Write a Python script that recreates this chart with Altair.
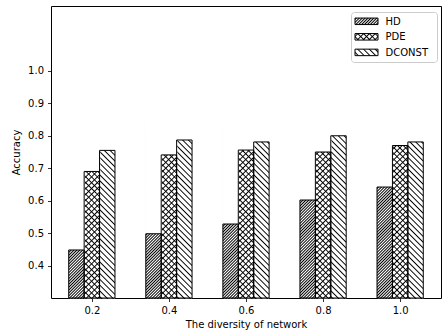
import math
import altair as alt
import pandas as pd

# ---- data ----
diversity = [0.2, 0.4, 0.6, 0.8, 1.0]
series = ["HD", "PDE", "DCONST"]
hd = [0.448, 0.498, 0.528, 0.602, 0.642]
pde = [0.690, 0.741, 0.756, 0.750, 0.770]
dconst = [0.755, 0.787, 0.781, 0.800, 0.781]
x_ticks = [0.2, 0.4, 0.6, 0.8, 1.0]
y_ticks = [0.4, 0.5, 0.6, 0.7, 0.8, 0.9, 1.0]

# ---- layout ----
W, H = 390, 292
XDOM = [0.094, 1.106]
YDOM = [0.3, 1.2]
BAR_W = 0.04
COVER_PAD = 0.0018
offsets = {"HD": -0.04, "PDE": 0.0, "DCONST": 0.04}

PX_PER_Y = H / (YDOM[1] - YDOM[0])
SEG_PX = 17.4          # multiple of every hatch spacing -> seamless tiling
EXT_PX = 0.6           # overlap between tiles
N_SEG = 10
seg_h = SEG_PX / PX_PER_Y
ext_h = EXT_PX / PX_PER_Y
COVER_TOP = YDOM[0] + N_SEG * seg_h + 0.03

rows, seg_rows = [], []
for s, vals in zip(series, [hd, pde, dconst]):
    for d, v in zip(diversity, vals):
        c = d + offsets[s]
        r = dict(diversity=d, series=s, value=v,
                 x0=c - BAR_W / 2, x1=c + BAR_W / 2,
                 cx0=c - BAR_W / 2 - COVER_PAD, cx1=c + BAR_W / 2 + COVER_PAD,
                 base=YDOM[0], ctop=COVER_TOP)
        rows.append(r)
        for k in range(N_SEG):
            lo = YDOM[0] + k * seg_h
            seg_rows.append(dict(series=s, x0=r["x0"], x1=r["x1"],
                                 lo=lo, hi=lo + seg_h,
                                 elo=lo - ext_h, ehi=lo + seg_h + ext_h))
df = pd.DataFrame(rows)
seg = pd.DataFrame(seg_rows)

bar_px_w = BAR_W / (XDOM[1] - XDOM[0]) * W


def hatch(w, h, spacing, direction, lw=0.95, clear=False):
    """Diagonal hatch drawn as a linear gradient (anti-aliased triangle lines)."""
    S = w + h
    s = S / (w * w + h * h)
    if direction == "/":
        x1, y1, x2, y2 = 0, 0, s * w, s * h
    else:
        x1, y1, x2, y2 = 1, 0, 1 - s * w, s * h
    half = lw * math.sqrt(2)
    phase = spacing / 2
    k0 = math.floor((-half - phase) / spacing) - 1
    k1 = math.ceil((S + half - phase) / spacing) + 1
    centers = [phase + k * spacing for k in range(k0, k1 + 1)]
    pts = {0.0, S}
    for c in centers:
        for p in (c - half, c, c + half):
            if 0 < p < S:
                pts.add(p)

    def inten(p):
        return min(1.0, max(0.0, max(1 - abs(p - c) / half for c in centers)))

    stops = []
    for p in sorted(pts):
        a = inten(p)
        if clear:
            col = f"rgba(0,0,0,{a:.3f})"
        else:
            g = round(255 * (1 - a))
            col = f"rgb({g},{g},{g})"
        stops.append({"offset": round(p / S, 5), "color": col})
    return {"gradient": "linear", "x1": x1, "y1": y1, "x2": x2, "y2": y2,
            "stops": stops}


def patterns(w, h, h_clear):
    return {
        "HD": [(hatch(w, h, 2.9, "/", lw=1.0), True)],
        "PDE": [(hatch(w, h, 5.8, "/"), True),
                (hatch(w, h_clear, 5.8, "\\", clear=True), False)],
        "DCONST": [(hatch(w, h, 5.8, "\\"), True)],
    }


bar_pat = patterns(bar_px_w, SEG_PX + 2 * EXT_PX, SEG_PX)

x_axis = alt.Axis(values=x_ticks, format=".1f", grid=False, domain=False,
                  tickColor="black", tickSize=3.5, tickWidth=0.8,
                  labelPadding=4, labelFontSize=10, labelColor="black",
                  titleFontSize=10, titleFontWeight="normal", titleColor="black",
                  titleY=29.5, titleBaseline="alphabetic")
y_axis = alt.Axis(values=y_ticks, format=".1f", grid=False, domain=False,
                  tickColor="black", tickSize=3.5, tickWidth=0.8,
                  labelPadding=4, labelFontSize=10, labelColor="black",
                  titleFontSize=10, titleFontWeight="normal", titleColor="black",
                  titleX=-31.5, titleY=146, titleAngle=270, titleAlign="center",
                  titleBaseline="alphabetic")

X = alt.X("x0:Q", scale=alt.Scale(domain=XDOM, nice=False, zero=False),
          axis=x_axis, title="The diversity of network")
X2 = alt.X2("x1")
YSC = alt.Scale(domain=YDOM, nice=False, zero=False)

layers = []
for s in series:
    sbase = alt.Chart(seg).transform_filter(alt.datum.series == s)
    for g, extended in bar_pat[s]:
        lo, hi = ("elo", "ehi") if extended else ("lo", "hi")
        layers.append(sbase.mark_rect(fill=g).encode(
            x=X, x2=X2,
            y=alt.Y(f"{lo}:Q", scale=YSC, axis=y_axis, title="Accuracy"),
            y2=hi))
for s in series:
    base = alt.Chart(df).transform_filter(alt.datum.series == s)
    layers.append(base.mark_rect(fill="white").encode(
        x=alt.X("cx0:Q"), x2="cx1", y=alt.Y("value:Q", scale=YSC), y2="ctop"))
for s in series:
    base = alt.Chart(df).transform_filter(alt.datum.series == s)
    layers.append(base.mark_rect(fillOpacity=0, stroke="black", strokeWidth=1).encode(
        x=X, x2=X2, y=alt.Y("value:Q", scale=YSC), y2="base"))

# ---- legend (drawn by hand) ----
one = pd.DataFrame({"k": [0]})
layers.append(alt.Chart(one).mark_rect(fill="white", fillOpacity=0.8,
                                       stroke="#cccccc", strokeWidth=1,
                                       cornerRadius=3).encode(
    x=alt.value(300.5), x2=alt.value(386.5), y=alt.value(6.5), y2=alt.value(56.5)))

SW, SH = 23, 6.5
leg_pat = patterns(SW, SH, SH)
leg_y = {"HD": 15.3, "PDE": 30.8, "DCONST": 46.4}
for s in series:
    yc = leg_y[s]
    for g, _ in leg_pat[s]:
        layers.append(alt.Chart(one).mark_rect(fill=g).encode(
            x=alt.value(304), x2=alt.value(304 + SW),
            y=alt.value(yc - SH / 2), y2=alt.value(yc + SH / 2)))
    layers.append(alt.Chart(one).mark_rect(fillOpacity=0, stroke="black",
                                           strokeWidth=1).encode(
        x=alt.value(304), x2=alt.value(304 + SW),
        y=alt.value(yc - SH / 2), y2=alt.value(yc + SH / 2)))
    layers.append(alt.Chart(pd.DataFrame({"label": [s]})).mark_text(
        align="left", baseline="middle", fontSize=10, color="black").encode(
        x=alt.value(334.5), y=alt.value(yc + 0.5), text="label:N"))

chart = alt.layer(*layers).properties(
    width=W, height=H, autosize="none",
    padding={"left": 51, "top": 6, "right": 2, "bottom": 36},
).configure(font="DejaVu Sans").configure_view(stroke="black", strokeWidth=1)

chart.save("out.html", embed_options={"renderer": "svg", "actions": False})
